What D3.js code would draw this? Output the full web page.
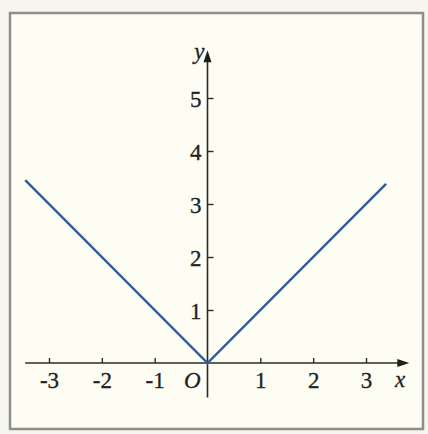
<!DOCTYPE html>
<html>
<head>
<meta charset="utf-8">
<script src="https://cdn.jsdelivr.net/npm/d3@7"></script>
<style>
  body { margin: 0; background: #f6f6ee; }
  svg { display: block; }
  .tick line { stroke: #2a2a2a; stroke-width: 1.4; }
</style>
</head>
<body>
<div class="chart"></div>
<script>
var w = 428;
var h = 434;
var serif = "'Liberation Serif', 'Times New Roman', Times, serif";

// y = |x|
var xTicks = [-3, -2, -1, 1, 2, 3];
var yTicks = [1, 2, 3, 4, 5];
var curveX = [-3.45, 0, 3.38];
var curveY = [3.45, 0, 3.38];

var xScale = d3.scaleLinear()
    .domain([-3, 3])
    .range([49, 366]);

var yScale = d3.scaleLinear()
    .domain([0, 5])
    .range([363, 98]);

var svg = d3.select(".chart")
    .append("svg")
    .attr("width", w)
    .attr("height", h);

// paper frame
svg.append("rect")
    .attr("x", 10)
    .attr("y", 13)
    .attr("width", 413)
    .attr("height", 416)
    .attr("fill", "#fdfdf3")
    .attr("stroke", "#8f8f8a")
    .attr("stroke-width", 2.5);

// axis lines with arrows
svg.append("line")
    .attr("x1", xScale(-3.45)).attr("x2", xScale(3.7))
    .attr("y1", yScale(0)).attr("y2", yScale(0))
    .attr("stroke", "#2a2a2a").attr("stroke-width", 1.6);

svg.append("line")
    .attr("x1", xScale(0)).attr("x2", xScale(0))
    .attr("y1", yScale(-0.65)).attr("y2", yScale(5.75))
    .attr("stroke", "#2a2a2a").attr("stroke-width", 1.6);

var ax = xScale(3.82), ay = yScale(0);
svg.append("path")
    .attr("d", "M" + ax + "," + ay + "L" + (ax - 12) + "," + (ay - 4) + "L" + (ax - 12) + "," + (ay + 4) + "Z")
    .attr("fill", "#1e1e1e");

var bx = xScale(0), by = yScale(5.9);
svg.append("path")
    .attr("d", "M" + bx + "," + by + "L" + (bx - 4) + "," + (by + 12) + "L" + (bx + 4) + "," + (by + 12) + "Z")
    .attr("fill", "#1e1e1e");

// ticks
var fmt = function(d) { return d < 0 ? "-" + (-d) : "" + d; };

var gx = svg.append("g")
    .attr("transform", "translate(0," + yScale(0) + ")")
    .call(d3.axisBottom(xScale)
        .tickValues(xTicks)
        .tickFormat(fmt)
        .tickSizeInner(-5)
        .tickSizeOuter(0)
        .tickPadding(9));
gx.select(".domain").remove();

var gy = svg.append("g")
    .attr("transform", "translate(" + xScale(0) + ",0)")
    .call(d3.axisLeft(yScale)
        .tickValues(yTicks)
        .tickFormat(fmt)
        .tickSizeInner(-6)
        .tickSizeOuter(0)
        .tickPadding(6));
gy.select(".domain").remove();
gy.selectAll(".tick text").attr("dy", "0.36em");

svg.selectAll(".tick text")
    .attr("font-family", serif)
    .attr("font-size", 23)
    .attr("fill", "#222")
    .attr("stroke", "#222")
    .attr("stroke-width", 0.3);

// the graph
var pts = curveX.map(function(d, i) { return [d, curveY[i]]; });
svg.append("path")
    .datum(pts)
    .attr("fill", "none")
    .attr("stroke", "#2f5d95")
    .attr("stroke-width", 2.4)
    .attr("d", d3.line()
        .x(function(d) { return xScale(d[0]); })
        .y(function(d) { return yScale(d[1]); }));

// labels
var labels = [
    { t: "O", x: xScale(0) - 7, y: yScale(0) + 25, a: "end" },
    { t: "x", x: xScale(3.55), y: yScale(0) + 24, a: "start" },
    { t: "y", x: xScale(0) - 3, y: yScale(5.85) + 6, a: "end" }
];
svg.selectAll(".lbl")
    .data(labels)
    .enter()
    .append("text")
    .attr("class", "lbl")
    .attr("x", function(d) { return d.x; })
    .attr("y", function(d) { return d.y; })
    .attr("text-anchor", function(d) { return d.a; })
    .attr("font-family", serif)
    .attr("font-size", 23)
    .attr("font-style", "italic")
    .attr("fill", "#222")
    .attr("stroke", "#222")
    .attr("stroke-width", 0.3)
    .text(function(d) { return d.t; });
</script>
</body>
</html>
